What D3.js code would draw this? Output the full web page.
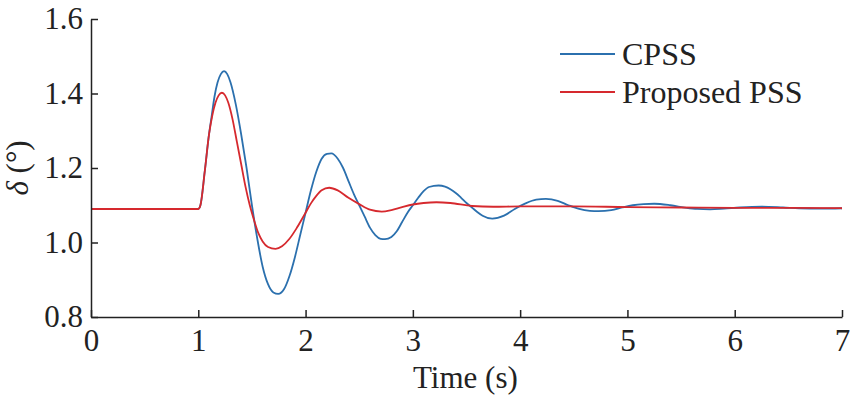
<!DOCTYPE html>
<html>
<head>
<meta charset="utf-8">
<script src="https://cdn.jsdelivr.net/npm/d3@7"></script>
<style>
  body { margin: 0; background: #fff; }
  text { font-family: "Liberation Serif", "Times New Roman", serif; fill: #222; }
</style>
</head>
<body>
<div id="VisContainer"></div>
<script>
// time (s) / rotor angle (deg)
var cpssTime = [0, 1.0, 1.02, 1.06, 1.10, 1.125, 1.15, 1.18, 1.21, 1.24, 1.27, 1.30, 1.35, 1.40, 1.45, 1.50,
  1.55, 1.60, 1.65, 1.70, 1.745, 1.80, 1.85, 1.90, 1.95, 2.00, 2.05, 2.10, 2.15, 2.20, 2.24, 2.30,
  2.35, 2.40, 2.45, 2.50, 2.55, 2.60, 2.65, 2.70, 2.74, 2.80, 2.85, 2.90, 2.95, 3.00, 3.05, 3.10,
  3.15, 3.24, 3.30, 3.35, 3.40, 3.45, 3.50, 3.55, 3.60, 3.65, 3.74, 3.85, 3.95, 4.05, 4.15, 4.24,
  4.35, 4.45, 4.55, 4.65, 4.73, 4.85, 4.95, 5.05, 5.15, 5.25, 5.40, 5.55, 5.65, 5.77, 5.90, 6.05,
  6.25, 6.45, 6.60, 6.80, 7.0];
var cpssVal = [1.090, 1.090, 1.10, 1.19, 1.29, 1.34, 1.39, 1.43, 1.452, 1.460, 1.452, 1.43, 1.37, 1.29, 1.20, 1.10,
  1.01, 0.935, 0.888, 0.866, 0.862, 0.875, 0.91, 0.96, 1.02, 1.08, 1.14, 1.19, 1.225, 1.238, 1.239, 1.225,
  1.20, 1.165, 1.13, 1.10, 1.07, 1.04, 1.02, 1.01, 1.009, 1.015, 1.03, 1.055, 1.08, 1.10, 1.12, 1.138,
  1.149, 1.153, 1.150, 1.143, 1.133, 1.12, 1.106, 1.094, 1.082, 1.072, 1.064, 1.072, 1.090, 1.105, 1.115, 1.117,
  1.112, 1.100, 1.090, 1.085, 1.084, 1.087, 1.094, 1.100, 1.103, 1.104, 1.100, 1.093, 1.090, 1.089, 1.091, 1.094,
  1.096, 1.094, 1.092, 1.091, 1.092];

var pssTime = [0, 1.0, 1.02, 1.06, 1.10, 1.13, 1.16, 1.19, 1.22, 1.25, 1.28, 1.32, 1.36, 1.40, 1.44, 1.48,
  1.52, 1.56, 1.60, 1.65, 1.72, 1.78, 1.85, 1.92, 2.00, 2.05, 2.10, 2.15, 2.22, 2.30, 2.40, 2.50,
  2.60, 2.71, 2.80, 2.90, 3.00, 3.10, 3.22, 3.35, 3.55, 3.75, 4.0, 4.5, 5.0, 5.5, 6.0, 6.5, 7.0];
var pssVal = [1.090, 1.090, 1.10, 1.19, 1.29, 1.34, 1.375, 1.395, 1.402, 1.395, 1.375, 1.33, 1.27, 1.21, 1.15, 1.10,
  1.06, 1.025, 1.003, 0.988, 0.983, 0.99, 1.01, 1.04, 1.08, 1.105, 1.125, 1.14, 1.147, 1.14, 1.12, 1.103,
  1.088, 1.083, 1.087, 1.095, 1.102, 1.106, 1.108, 1.106, 1.098, 1.096, 1.097, 1.097, 1.095, 1.094, 1.093, 1.093, 1.092];

var xTicks = [0, 1, 2, 3, 4, 5, 6, 7];
var yTicks = [0.8, 1.0, 1.2, 1.4, 1.6];
var seriesNames = ["CPSS", "Proposed PSS"];
var seriesColors = ["#2b70ae", "#d6292e"];

var margin = {top: 19, right: 10, bottom: 80, left: 91},
    width = 852 - margin.left - margin.right,
    height = 397 - margin.top - margin.bottom;

var svg = d3.select("#VisContainer").append("svg")
    .attr("width", 852)
    .attr("height", 397)
  .append("g")
    .attr("transform", "translate(" + margin.left + "," + margin.top + ")");

var x = d3.scaleLinear().domain([0, 7]).range([0, width]);
var y = d3.scaleLinear().domain([0.8, 1.6]).range([height, 0]);

var line = d3.line()
    .x(function(d){ return x(d[0]); })
    .y(function(d){ return y(d[1]); })
    .curve(d3.curveMonotoneX);

var cpss = cpssTime.map(function(t, i){ return [t, cpssVal[i]]; });
var pss = pssTime.map(function(t, i){ return [t, pssVal[i]]; });

svg.append("path").datum(cpss)
    .attr("fill", "none").attr("stroke", seriesColors[0]).attr("stroke-width", 1.8)
    .attr("d", line);
svg.append("path").datum(pss)
    .attr("fill", "none").attr("stroke", seriesColors[1]).attr("stroke-width", 1.8)
    .attr("d", line);

// axes, ticks pointing inward
var xAxis = svg.append("g")
    .attr("transform", "translate(0," + height + ")")
    .call(d3.axisBottom(x).tickValues(xTicks).tickFormat(d3.format("d")).tickSizeInner(-7).tickSizeOuter(0).tickPadding(12));
var yAxis = svg.append("g")
    .call(d3.axisLeft(y).tickValues(yTicks).tickFormat(d3.format(".1f")).tickSizeInner(-7).tickSizeOuter(0).tickPadding(8));

[xAxis, yAxis].forEach(function(a){
  a.select(".domain").attr("stroke", "#222").attr("stroke-width", 1.5);
  a.selectAll(".tick line").attr("stroke", "#222").attr("stroke-width", 1.5);
  a.selectAll(".tick text").style("font-family", "Liberation Serif").style("font-size", "31px").attr("fill", "#222");
});
xAxis.selectAll(".tick text").attr("dy", "0.71em");

// axis titles
svg.append("text")
    .attr("x", x(3.49)).attr("y", height + 71)
    .attr("text-anchor", "middle")
    .style("font-size", "31px")
    .text("Time (s)");

var yl = svg.append("text")
    .attr("transform", "translate(" + (28 - margin.left) + "," + (168 - margin.top) + ") rotate(-90)")
    .attr("text-anchor", "middle")
    .style("font-size", "31px");
yl.append("tspan").style("font-style", "italic").text("δ");
yl.append("tspan").text(" (°)");

// legend
var legend = svg.selectAll("g.legend")
    .data(seriesNames)
    .enter().append("g")
    .attr("class", "legend")
    .attr("transform", function(d, i){ return "translate(" + (560 - margin.left) + "," + (54 + i * 38 - margin.top) + ")"; });
legend.append("line")
    .attr("x1", 0).attr("x2", 55).attr("y1", 0).attr("y2", 0)
    .attr("stroke", function(d, i){ return seriesColors[i]; })
    .attr("stroke-width", 1.8);
legend.append("text")
    .attr("x", 62).attr("y", 11)
    .style("font-size", "32px")
    .text(function(d){ return d; });
</script>
</body>
</html>
